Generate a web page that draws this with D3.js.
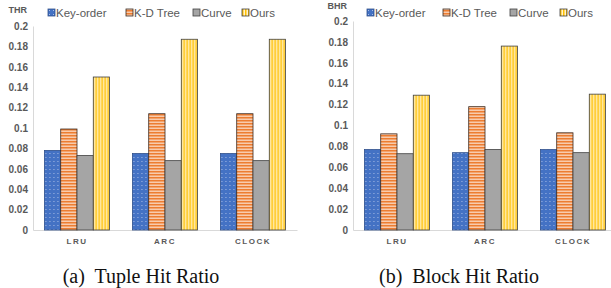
<!DOCTYPE html>
<html>
<head>
<meta charset="utf-8">
<script src="https://cdn.jsdelivr.net/npm/d3@7"></script>
<style>
  body { margin: 0; background: #fff; }
  svg { display: block; }
</style>
</head>
<body>
<svg width="611" height="288"></svg>
<script>
// data
const categories = ["LRU", "ARC", "CLOCK"];
const seriesNames = ["Key-order", "K-D Tree", "Curve", "Ours"];
const thrKeyOrder = [0.078, 0.075, 0.075];
const thrKdTree   = [0.099, 0.114, 0.114];
const thrCurve    = [0.073, 0.068, 0.068];
const thrOurs     = [0.150, 0.187, 0.187];
const bhrKeyOrder = [0.077, 0.074, 0.077];
const bhrKdTree   = [0.092, 0.118, 0.093];
const bhrCurve    = [0.073, 0.077, 0.074];
const bhrOurs     = [0.129, 0.176, 0.130];
const yTicks = [0, 0.02, 0.04, 0.06, 0.08, 0.1, 0.12, 0.14, 0.16, 0.18, 0.2];

let svg = d3.select("svg");
let defs = svg.append("defs");

// patterns for the four series
let p1 = defs.append("pattern").attr("id", "pat0").attr("patternUnits", "userSpaceOnUse")
    .attr("width", 4).attr("height", 4);
p1.append("rect").attr("width", 4).attr("height", 4).attr("fill", "#4472C4");
p1.append("rect").attr("x", 1).attr("y", 1).attr("width", 1).attr("height", 1).attr("fill", "#a9bde6");

let p2 = defs.append("pattern").attr("id", "pat1").attr("patternUnits", "userSpaceOnUse")
    .attr("width", 4).attr("height", 3);
p2.append("rect").attr("width", 4).attr("height", 3).attr("fill", "#F8CBAD");
p2.append("rect").attr("y", 0).attr("width", 4).attr("height", 1.5).attr("fill", "#ED7D31");

let p3 = defs.append("pattern").attr("id", "pat2").attr("patternUnits", "userSpaceOnUse")
    .attr("width", 4).attr("height", 4);
p3.append("rect").attr("width", 4).attr("height", 4).attr("fill", "#A5A5A5");

let p4 = defs.append("pattern").attr("id", "pat3").attr("patternUnits", "userSpaceOnUse")
    .attr("width", 3).attr("height", 4);
p4.append("rect").attr("width", 3).attr("height", 4).attr("fill", "#FFF2CC");
p4.append("rect").attr("x", 0).attr("width", 1.5).attr("height", 4).attr("fill", "#FFC000");

const strokes = ["#2f4f8a", "#3a2a20", "#404040", "#404040"];

function drawChart(opts) {
  let g = svg.append("g").attr("transform", "translate(" + opts.left + ",0)");
  let width = 264;

  let y = d3.scaleLinear().domain([0, 0.2]).range([opts.bottom, opts.top]);
  let x0 = d3.scaleBand().domain(categories).range([0, width])
      .paddingInner(0.26).paddingOuter(0.13);
  let x1 = d3.scaleBand().domain(seriesNames).range([0, x0.bandwidth()]);

  // y axis
  let yAxis = g.append("g")
      .call(d3.axisLeft(y).tickValues(yTicks).tickSize(0).tickPadding(5)
        .tickFormat(d => d === 0 ? "0" : String(+d.toFixed(2))));
  yAxis.select(".domain").attr("stroke", "#d9d9d9");
  yAxis.selectAll("text").attr("fill", "#595959").style("font-size", "10px")
      .style("font-family", "Liberation Sans, Arial, sans-serif").style("font-weight", "bold");

  // x axis
  let xAxis = g.append("g").attr("transform", "translate(0," + opts.bottom + ")")
      .call(d3.axisBottom(x0).tickSize(0).tickPadding(8));
  xAxis.select(".domain").attr("stroke", "#d9d9d9");
  xAxis.selectAll("text").attr("fill", "#595959").style("font-size", "8px")
      .style("letter-spacing", "1.5px")
      .style("font-family", "Liberation Sans, Arial, sans-serif").style("font-weight", "bold");

  // bars
  let groups = g.selectAll(".grp").data(categories).enter().append("g")
      .attr("transform", d => "translate(" + x0(d) + ",0)");
  groups.selectAll("rect")
      .data((c, i) => opts.series.map((s, j) => ({ name: seriesNames[j], v: s[i], j: j })))
      .enter().append("rect")
      .attr("x", d => x1(d.name))
      .attr("y", d => y(d.v))
      .attr("width", x1.bandwidth())
      .attr("height", d => opts.bottom - y(d.v))
      .attr("fill", d => "url(#pat" + d.j + ")")
      .attr("stroke", d => strokes[d.j])
      .attr("stroke-width", 0.8);

  // axis title
  g.append("text").attr("x", opts.titleX).attr("y", opts.titleY)
      .attr("text-anchor", "end")
      .attr("fill", "#595959").style("font-size", "9px").style("font-weight", "bold")
      .style("font-family", "Liberation Sans, Arial, sans-serif")
      .text(opts.title);

  // legend
  let leg = g.selectAll(".leg").data(seriesNames).enter().append("g")
      .attr("transform", (d, i) => "translate(" + opts.legendX[i] + "," + 13 + ")");
  leg.append("rect").attr("x", 0).attr("y", -4).attr("width", 7).attr("height", 7)
      .attr("fill", (d, i) => "url(#pat" + i + ")")
      .attr("stroke", (d, i) => strokes[i]).attr("stroke-width", 0.8);
  leg.append("text").attr("x", 8).attr("y", 4)
      .attr("fill", "#595959").style("font-size", "11.5px")
      .style("font-family", "Liberation Sans, Arial, sans-serif")
      .text(d => d);

  // caption
  svg.append("text").attr("x", opts.captionX).attr("y", 283)
      .attr("text-anchor", "middle")
      .style("font-family", "Liberation Serif, Times New Roman, serif")
      .style("font-size", "20px").attr("fill", "#111")
      .style("white-space", "pre")
      .text(opts.caption);
}

drawChart({
  left: 33, top: 26, bottom: 230,
  series: [thrKeyOrder, thrKdTree, thrCurve, thrOurs],
  title: "THR", titleX: -6, titleY: 13,
  legendX: [15, 93, 160, 209],
  caption: "(a)  Tuple Hit Ratio", captionX: 141
});

drawChart({
  left: 353, top: 21, bottom: 230,
  series: [bhrKeyOrder, bhrKdTree, bhrCurve, bhrOurs],
  title: "BHR", titleX: -6, titleY: 9,
  legendX: [14, 90, 157, 207],
  caption: "(b)  Block Hit Ratio", captionX: 459
});
</script>
</body>
</html>
